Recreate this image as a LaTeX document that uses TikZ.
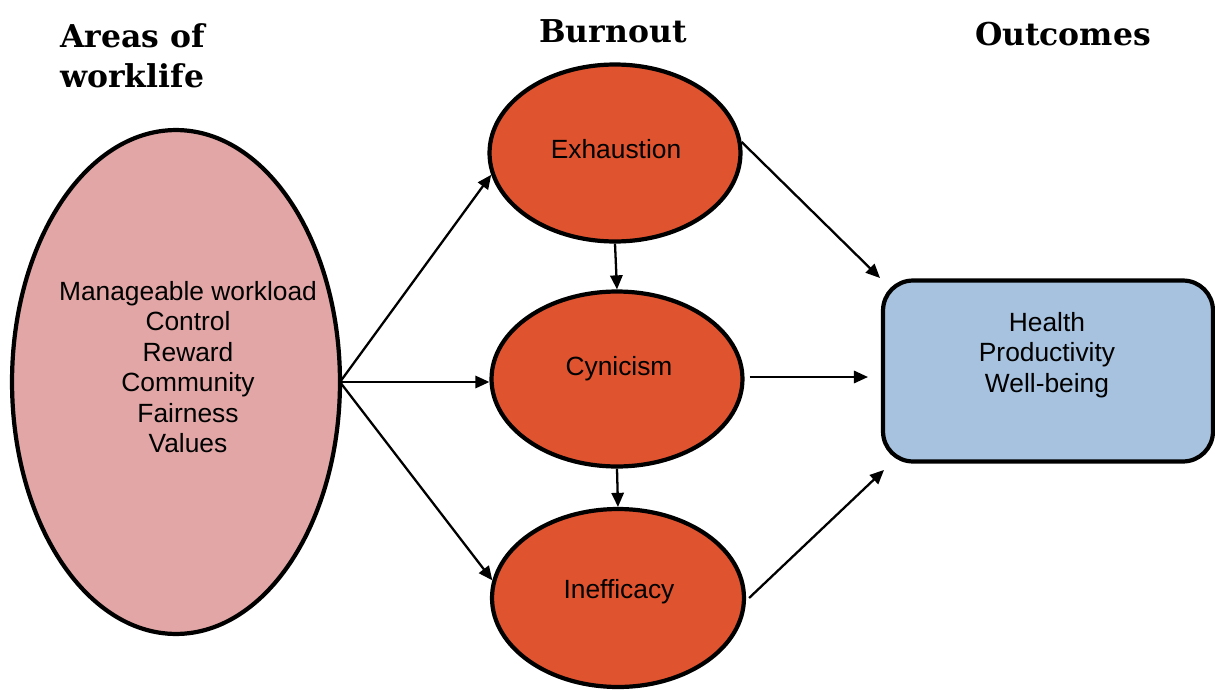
\documentclass[tikz,border=0pt]{standalone}
\usepackage{fontspec}
\setmainfont{Liberation Sans}
\newfontfamily\headfont{DejaVu Serif}
\usetikzlibrary{shapes.geometric,arrows.meta}
\definecolor{areafill}{HTML}{E2A6A6}
\definecolor{burnfill}{HTML}{E0532F}
\definecolor{outfill}{HTML}{A6C2DE}
\tikzset{
  head/.style={font=\headfont\bfseries\fontsize{17.9}{23}\selectfont, inner sep=0pt, align=left},
  body/.style={font=\fontsize{15}{17.3}\selectfont, align=center, inner sep=0pt},
  oval/.style={ellipse, draw=black, line width=2.4pt, inner sep=0pt},
  arr/.style={line width=1.3pt, -{Triangle[length=8pt,width=7pt]}},
}
\begin{document}
\begin{tikzpicture}[x=0.02cm,y=-0.02cm]
\useasboundingbox (0,0) rectangle (1215,690);
% headings
\node[head, anchor=west] (h1) at (60,56) {Areas of\\worklife};
\node[head] (h2) at (613,31) {Burnout};
\node[head] (h3) at (1063,34) {Outcomes};
% shapes
\node[oval, fill=areafill, minimum width=6.56cm, minimum height=10.08cm] (areas) at (176,382) {};
\node[body] (areastext) at (188,367) {Manageable workload\\Control\\Reward\\Community\\Fairness\\Values};
\node[oval, fill=burnfill, minimum width=5.02cm, minimum height=3.54cm] (exh) at (615,153) {};
\node[body] at (616,149) {Exhaustion};
\node[oval, fill=burnfill, minimum width=5.02cm, minimum height=3.5cm] (cyn) at (617,379) {};
\node[body] at (619,369) {Cynicism};
\node[oval, fill=burnfill, minimum width=5.04cm, minimum height=3.56cm] (ineff) at (618,598) {};
\node[body] at (619,592) {Inefficacy};
\node[draw=black, line width=2.4pt, fill=outfill, rounded corners=0.6cm, minimum width=6.6cm, minimum height=3.62cm, inner sep=0pt] (out) at (1048,371) {};
\node[body] at (1047,355) {Health\\Productivity\\Well-being};
% connectors
\coordinate (src) at (340,382);
\draw[arr] (src) -- (exh.190);
\draw[arr] (src) -- (src -| cyn.west);
\draw[arr] (src) -- (ineff.172);
\draw[arr] (exh.south) -- (cyn.north);
\draw[arr] (cyn.south) -- (ineff.north);
\coordinate (o1) at (880,278);
\coordinate (o2) at (868,377);
\coordinate (o3) at (884,470);
\draw[arr] (exh.5) -- (o1);
\draw[arr] ([xshift=0.1cm]cyn.east |- o2) -- (o2);
\draw[arr] ([xshift=0.06cm]ineff.east) -- (o3);
\end{tikzpicture}
\end{document}
